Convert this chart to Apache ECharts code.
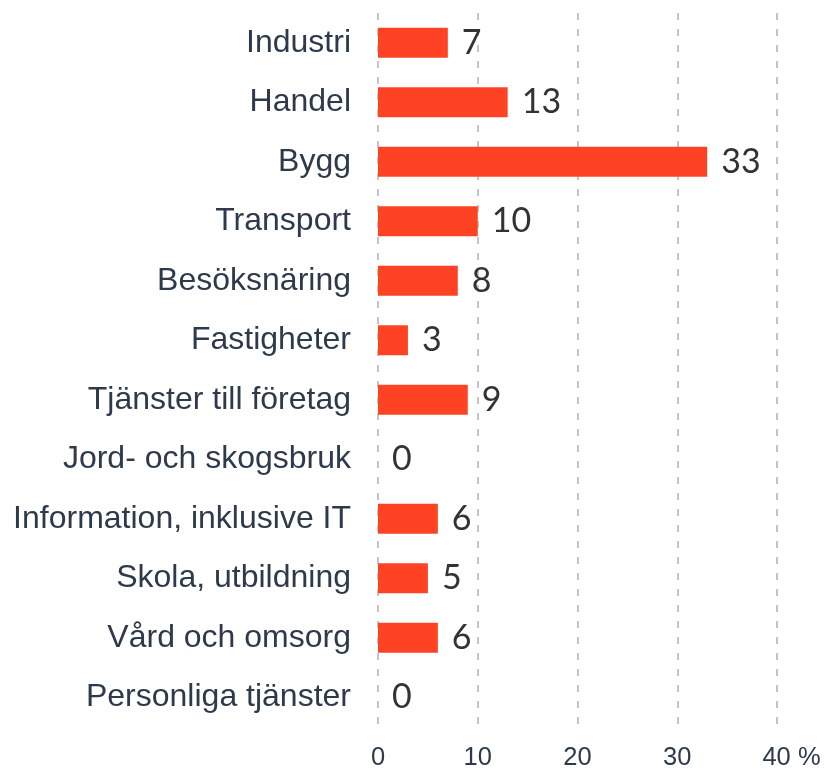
<!DOCTYPE html>
<html>
<head>
<meta charset="utf-8">
<script src="https://cdn.jsdelivr.net/npm/echarts@6/dist/echarts.min.js"></script>
<style>
  html, body { margin: 0; padding: 0; background: #fff; }
  #chart { width: 825px; height: 771px; }
</style>
</head>
<body>
<div id="chart"></div>
<script>
var categories = ['Industri', 'Handel', 'Bygg', 'Transport', 'Besöksnäring', 'Fastigheter',
  'Tjänster till företag', 'Jord- och skogsbruk', 'Information, inklusive IT',
  'Skola, utbildning', 'Vård och omsorg', 'Personliga tjänster'];
var values = [7, 13, 33, 10, 8, 3, 9, 0, 6, 5, 6, 0];
var tickLabels = ['0', '10', '20', '30', '40'];
var unit = ' %';

var chart = echarts.init(document.getElementById('chart'));
chart.setOption({
  backgroundColor: '#fff',
  animation: false,
  grid: { left: 378, right: 48, top: 13, bottom: 44, containLabel: false },
  xAxis: {
    type: 'value',
    min: 0, max: 40, interval: 10,
    axisLine: { show: false },
    axisTick: { show: false },
    splitLine: { show: true, lineStyle: { color: '#c4c4c4', width: 2, type: [7, 9] } },
    axisLabel: {
      color: '#2d3a4b', fontSize: 25.5, fontFamily: 'Liberation Sans', margin: 18,
      formatter: function (v) {
        var t = tickLabels[v / 10];
        // last tick carries the unit; pad left so the number stays centred on the line
        return v === 40 ? '{pad|}' + t + unit : t;
      },
      rich: { pad: { width: 29 } }
    }
  },
  yAxis: {
    type: 'category',
    inverse: true,
    data: categories,
    axisLine: { show: false },
    axisTick: { show: false },
    axisLabel: { color: '#2d3a4b', fontSize: 32, fontFamily: 'Liberation Sans', margin: 27 }
  },
  series: [{
    type: 'bar',
    data: values,
    barWidth: 30,
    itemStyle: { color: '#fd4324' },
    label: {
      show: true, position: 'right', distance: 14,
      color: '#333', fontSize: 34, fontFamily: 'Lato'
    }
  }]
});
</script>
</body>
</html>
